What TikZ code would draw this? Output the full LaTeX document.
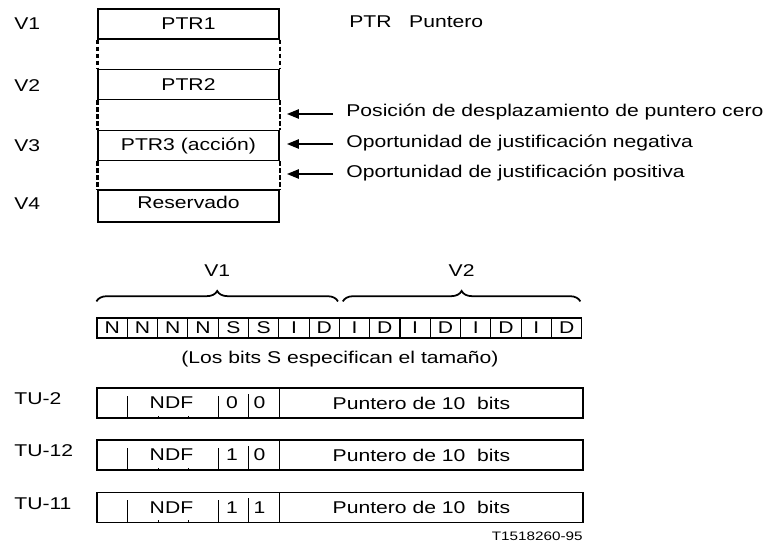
\documentclass[tikz,border=0pt]{standalone}
\usepackage{fontspec}
\setmainfont{Liberation Sans}[FakeStretch=1.24]
\usetikzlibrary{arrows.meta,decorations.pathreplacing}

\begin{document}
\begin{tikzpicture}[
x=0.02cm,
y=-0.02cm,
every node/.style={
font=\fontsize{9.7}{11}\selectfont,
inner sep=0pt
},
ptrbox/.style={draw, line width=0.65pt, minimum width=3.62cm, minimum height=0.6cm},
bitcell/.style={draw, line width=0.65pt, minimum width=0.606cm, minimum height=0.4cm},
tubox/.style={draw, line width=0.65pt, minimum width=9.72cm, minimum height=0.6cm},
gap/.style={line width=1.2pt, dash pattern=on 0.09cm off 0.05cm},
pointer/.style={line width=0.7pt, -{Triangle[length=0.24cm,width=0.19cm]}},
vbrace/.style={decorate, decoration={brace, amplitude=0.21cm}, line width=1pt},
tick/.style={line width=0.65pt}
]

\useasboundingbox (0,0) rectangle (765,545);

\node[anchor=west] (V1) at (14,24) {V1};
\node[anchor=west] (V2) at (14,85.5) {V2};
\node[anchor=west] (V3) at (14,145.5) {V3};
\node[anchor=west] (V4) at (14,204) {V4};

\node[ptrbox] (PTR1) at (188.5,24) {PTR1};
\node[ptrbox] (PTR2) at (188.5,84.5) {PTR2};
\node[ptrbox] (PTR3) at (188.5,145.5) {PTR3 (acción)};
\node[ptrbox, minimum height=0.64cm, text depth=0.16cm] (RES) at (188.5,206) {Reservado};

\draw[gap] (PTR1.south west)--(PTR2.north west);
\draw[gap] (PTR1.south east)--(PTR2.north east);
\draw[gap] (PTR2.south west)--(PTR3.north west);
\draw[gap] (PTR2.south east)--(PTR3.north east);
\draw[gap] (PTR3.south west)--(RES.north west);
\draw[gap] (PTR3.south east)--(RES.north east);

\node[anchor=west] (key) at (349,22) {PTR\ \ \ Puntero};

\node[anchor=base west] (zero) at (346,116) {Posición de desplazamiento de puntero cero};
\node[anchor=base west] (neg) at (346,147) {Oportunidad de justificación negativa};
\node[anchor=base west] (pos) at (346,177) {Oportunidad de justificación positiva};

\coordinate (zeroA) at (333,114);
\coordinate (zeroB) at (287,114);
\coordinate (negA) at (333,144);
\coordinate (negB) at (287,144);
\coordinate (posA) at (333,174);
\coordinate (posB) at (287,174);

\draw[pointer] (zeroA)--(zeroB);
\draw[pointer] (negA)--(negB);
\draw[pointer] (posA)--(posB);

\foreach \t [count=\i] in {N,N,N,N,S,S,I,D,I,D,I,D,I,D,I,D}
  \node[bitcell] (b\i) at ({97+30.3*(\i-0.5)},328) {\t};

\draw[vbrace] ([shift={(0,-16)}]b1.north west)--([shift={(-2,-16)}]b8.north east)
  node[midway, above=0.48cm] (VB1) {V1};
\draw[vbrace] ([shift={(4,-16)}]b9.north west)--([shift={(-2,-16)}]b16.north east)
  node[midway, above=0.48cm] (VB2) {V2};

\node (sbits) at (340,359) {(Los bits S especifican el tamaño)};

\node[anchor=west] (TU2) at (14,399) {TU-2};
\node[anchor=west] (TU12) at (14,451) {TU-12};
\node[anchor=west] (TU11) at (14,503.5) {TU-11};

\node[tubox] (row2) at (340,403) {};
\node[tubox] (row12) at (340,455) {};
\node[tubox] (row11) at (340,507.5) {};

\foreach \r/\p/\q in {row2/0/0,row12/1/0,row11/1/1} {
  \draw[tick] ([xshift=0.62cm]\r.south west)--++(0,-23);
  \draw[tick] ([xshift=1.24cm]\r.south west)--++(0,-3);
  \draw[tick] ([xshift=1.84cm]\r.south west)--++(0,-3);
  \draw[tick] ([xshift=2.44cm]\r.south west)--++(0,-23);
  \draw[tick] ([xshift=3.04cm]\r.south west)--++(0,-25);
  \draw[tick] ([xshift=3.66cm]\r.south west)--([xshift=3.66cm]\r.north west);
  \node (\r ndf) at ([xshift=1.5cm]\r.west) {NDF};
  \node (\r s1) at ([xshift=2.71cm]\r.west) {\p};
  \node (\r s2) at ([xshift=3.26cm]\r.west) {\q};
  \node (\r ptr) at ([xshift=6.5cm]\r.west) {Puntero de 10\ \ bits};
}

\node[anchor=base east, font=\fontsize{7}{8}\selectfont] (fig) at (583,540) {T1518260-95};

\end{tikzpicture}
\end{document}
